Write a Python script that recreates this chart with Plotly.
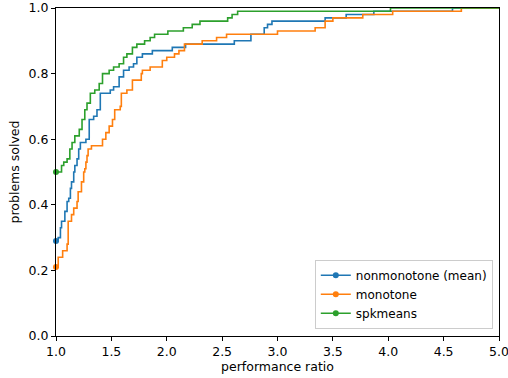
import plotly.graph_objects as go

# nonmonotone (mean)
nonmono_x = [1.00, 1.02, 1.04, 1.05, 1.08, 1.10, 1.115, 1.13, 1.14, 1.16, 1.17, 1.19, 1.205, 1.22,
             1.27, 1.30, 1.34, 1.37, 1.40, 1.49, 1.52, 1.57, 1.61, 1.66, 1.70, 1.73, 1.78, 1.87,
             2.05, 2.17, 2.61, 2.76, 2.88, 2.91, 2.95, 3.43, 3.62, 3.87, 4.58, 5.00]
nonmono_y = [0.29, 0.30, 0.33, 0.35, 0.38, 0.41, 0.42, 0.45, 0.47, 0.50, 0.52, 0.54, 0.57, 0.59,
             0.60, 0.66, 0.67, 0.69, 0.74, 0.75, 0.76, 0.79, 0.81, 0.82, 0.83, 0.85, 0.86, 0.87,
             0.88, 0.89, 0.90, 0.92, 0.94, 0.95, 0.96, 0.97, 0.98, 0.99, 1.00, 1.00]

# monotone
mono_x = [1.00, 1.02, 1.06, 1.10, 1.11, 1.14, 1.16, 1.19, 1.20, 1.23, 1.25, 1.26, 1.27, 1.28, 1.29,
          1.32, 1.42, 1.45, 1.48, 1.51, 1.53, 1.58, 1.59, 1.64, 1.69, 1.77, 1.78, 1.85, 1.96,
          2.00, 2.07, 2.11, 2.16, 2.32, 2.45, 2.54, 3.00, 3.34, 3.43, 3.50, 3.77, 4.04, 4.66, 5.00]
mono_y = [0.21, 0.24, 0.26, 0.28, 0.35, 0.37, 0.39, 0.41, 0.44, 0.47, 0.50, 0.51, 0.53, 0.55, 0.57,
          0.58, 0.60, 0.62, 0.64, 0.66, 0.69, 0.70, 0.74, 0.75, 0.78, 0.80, 0.81, 0.82, 0.84,
          0.85, 0.86, 0.87, 0.89, 0.90, 0.91, 0.92, 0.93, 0.94, 0.96, 0.97, 0.98, 0.99, 1.00, 1.00]

# spkmeans
spk_x = [1.00, 1.05, 1.07, 1.10, 1.125, 1.145, 1.17, 1.21, 1.235, 1.26, 1.28, 1.31, 1.35, 1.39,
         1.42, 1.48, 1.52, 1.57, 1.61, 1.64, 1.69, 1.73, 1.80, 1.85, 1.89, 2.01, 2.15, 2.23,
         2.30, 2.55, 2.59, 2.64, 4.02, 5.00]
spk_y = [0.50, 0.52, 0.53, 0.54, 0.57, 0.59, 0.61, 0.63, 0.66, 0.69, 0.71, 0.74, 0.75, 0.77,
         0.80, 0.81, 0.82, 0.83, 0.85, 0.86, 0.88, 0.89, 0.90, 0.91, 0.92, 0.93, 0.94, 0.95,
         0.96, 0.97, 0.98, 0.99, 1.00, 1.00]

series = [
    ("nonmonotone (mean)", nonmono_x, nonmono_y, "#1f77b4"),
    ("monotone", mono_x, mono_y, "#ff7f0e"),
    ("spkmeans", spk_x, spk_y, "#2ca02c"),
]

x_ticks = [1.0, 1.5, 2.0, 2.5, 3.0, 3.5, 4.0, 4.5, 5.0]
y_ticks = [0.0, 0.2, 0.4, 0.6, 0.8, 1.0]

FONT = "DejaVu Sans"
FS = 12.5

fig = go.Figure()
for name, xs, ys, color in series:
    fig.add_trace(go.Scatter(
        x=xs, y=ys, mode="lines", line=dict(color=color, width=1.6, shape="hv"),
        showlegend=False, legendgroup=name, hoverinfo="skip"))
    fig.add_trace(go.Scatter(
        x=xs[:1], y=ys[:1], mode="lines+markers", name=name, legendgroup=name,
        line=dict(color=color, width=1.6), marker=dict(color=color, size=6),
        cliponaxis=False))

axis_common = dict(
    showgrid=False, zeroline=False, showline=True, linecolor="black", linewidth=1,
    mirror=True, ticks="outside", ticklen=4, tickwidth=1, tickcolor="black",
    tickfont=dict(family=FONT, size=FS, color="black"), automargin=False,
    ticklabeloverflow="allow",
)

fig.update_layout(
    width=508, height=378,
    margin=dict(l=56, r=9, t=8, b=42),
    paper_bgcolor="white", plot_bgcolor="white",
    font=dict(family=FONT, size=FS, color="black"),
    xaxis=dict(range=[1.0, 5.0], tickvals=x_ticks, ticktext=[f"{v:.1f}" for v in x_ticks],
               title=dict(text="performance ratio", standoff=2,
                          font=dict(family=FONT, size=FS)),
               **axis_common),
    yaxis=dict(range=[0.0, 1.0], tickvals=y_ticks, ticktext=[f"{v:.1f}" for v in y_ticks],
               title=dict(text="problems solved", standoff=6,
                          font=dict(family=FONT, size=FS)),
               **axis_common),
    legend=dict(x=0.986, y=0.022, xanchor="right", yanchor="bottom",
                bgcolor="rgba(255,255,255,0.8)", bordercolor="#cccccc", borderwidth=1,
                font=dict(family=FONT, size=12, color="black"),
                itemwidth=30, tracegroupgap=0),
)

fig.write_html("out.html", config={"displayModeBar": False},
               post_script="document.body.style.margin='0';")
